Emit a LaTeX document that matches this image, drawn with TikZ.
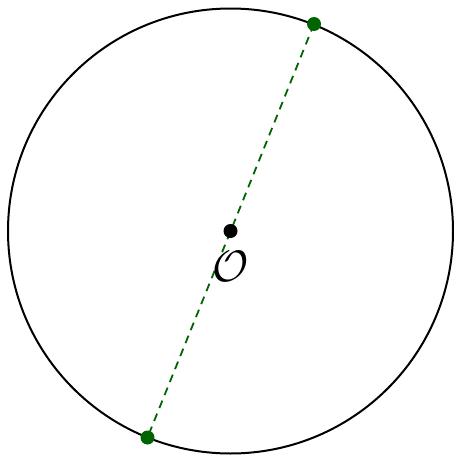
\documentclass[tikz,border=0pt]{standalone}
\usepackage{amsmath}
\definecolor{dgreen}{RGB}{0,100,0}
\begin{document}
\begin{tikzpicture}[x=1pt,y=-1pt,
  dot/.style={circle,fill=#1,inner sep=0pt,minimum size=14pt},
  diam/.style={dgreen,line width=1.8pt,dash pattern=on 8pt off 6pt}]
\useasboundingbox (0,0) rectangle (453,455);
\coordinate (c) at (230.5,231);
\draw[line width=2pt] (c) circle (222.5);
\node[dot=dgreen] (p) at (314,24) {};
\node[dot=dgreen] (q) at (147.5,437.5) {};
\draw[diam] (p.center) -- (q.center);
\node[dot=black] (o) at (c) {};
\node[scale=4.4,inner sep=0pt] (lbl) at (231,266) {$\mathcal{O}$};
\end{tikzpicture}
\end{document}
